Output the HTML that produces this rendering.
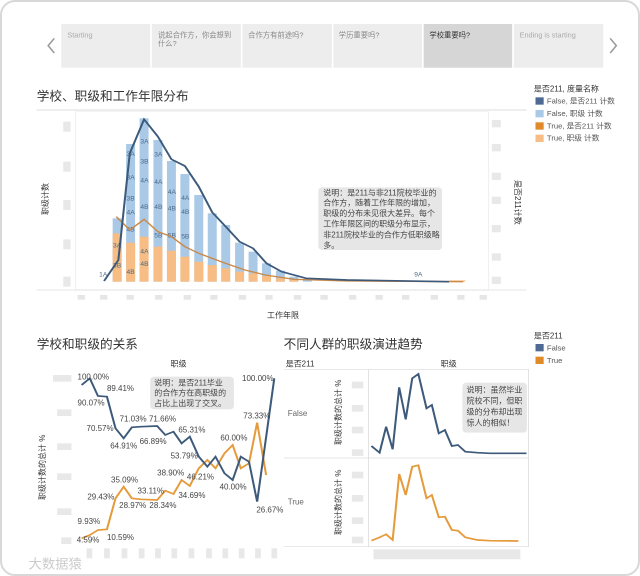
<!DOCTYPE html>
<html><head><meta charset="utf-8"><style>
html,body{margin:0;padding:0;background:#fff;width:640px;height:576px;overflow:hidden}
svg{display:block;font-family:"Liberation Sans","Noto Sans CJK SC",sans-serif}
g.z text{transform-box:fill-box;transform-origin:0 100%;transform:scaleX(0.816)}
</style></head><body>
<svg width="640" height="576" viewBox="0 0 640 576">
<rect x="1" y="1" width="638" height="574" rx="14" fill="#fff" stroke="#d8d8d8" stroke-width="2"/>
<g class="z" transform="scale(0.40816,0.33333)">
<rect x="150" y="72" width="1328" height="131" fill="#ededed"/>
<rect x="1037" y="72" width="218" height="131" fill="#d6d6d6"/>
<g stroke="#fff" stroke-width="4"><line x1="370" y1="72" x2="370" y2="203"/><line x1="592" y1="72" x2="592" y2="203"/><line x1="815" y1="72" x2="815" y2="203"/><line x1="1036" y1="72" x2="1036" y2="203"/><line x1="1257" y1="72" x2="1257" y2="203"/></g>
<g font-size="22" fill="#888"><text x="165" y="112" fill="#aaa">Starting</text><text x="387" y="112">说起合作方，你会想到</text><text x="387" y="138">什么?</text><text x="608" y="112">合作方有前途吗?</text><text x="830" y="112">学历重要吗?</text><text x="1052" y="112" fill="#333">学校重要吗?</text><text x="1273" y="112" fill="#aaa">Ending is starting</text></g>
<polyline points="133,115 118,137 133,159" fill="none" stroke="#999" stroke-width="4"/>
<polyline points="1495,115 1510,137 1495,159" fill="none" stroke="#999" stroke-width="4"/>
<text x="90" y="302" font-size="38" fill="#333">学校、职级和工作年限分布</text>
<line x1="90" y1="330" x2="1290" y2="330" stroke="#ddd" stroke-width="3"/>
<rect x="185" y="335" width="1012" height="535" fill="none" stroke="#eee" stroke-width="2"/>
<line x1="90" y1="870" x2="1290" y2="870" stroke="#ddd" stroke-width="2"/>
<g fill="#e8e8e8"><rect x="155" y="365" width="18" height="30"/><rect x="155" y="485" width="18" height="30"/><rect x="155" y="600" width="18" height="30"/><rect x="155" y="718" width="18" height="30"/><rect x="155" y="830" width="18" height="30"/>
<rect x="1205" y="360" width="22" height="22"/><rect x="1205" y="432" width="22" height="22"/><rect x="1205" y="518" width="22" height="22"/><rect x="1205" y="590" width="22" height="22"/><rect x="1205" y="675" width="22" height="22"/><rect x="1205" y="760" width="22" height="22"/><rect x="1205" y="830" width="22" height="22"/></g>
<g fill="#a9c9e6">
<rect x="276" y="655" width="22" height="190"/><rect x="309" y="432" width="22" height="413"/><rect x="342" y="355" width="22" height="490"/><rect x="376" y="420" width="22" height="425"/><rect x="409" y="483" width="22" height="362"/><rect x="442" y="522" width="22" height="323"/><rect x="476" y="585" width="22" height="260"/><rect x="509" y="640" width="22" height="205"/><rect x="542" y="675" width="22" height="170"/><rect x="576" y="728" width="22" height="117"/><rect x="609" y="755" width="22" height="90"/><rect x="642" y="790" width="22" height="55"/><rect x="676" y="812" width="22" height="33"/><rect x="709" y="830" width="22" height="15"/><rect x="742" y="837" width="22" height="8"/></g>
<g fill="#f7bd84">
<rect x="276" y="700" width="22" height="145"/><rect x="309" y="728" width="22" height="117"/><rect x="342" y="710" width="22" height="135"/><rect x="376" y="740" width="22" height="105"/><rect x="409" y="752" width="22" height="93"/><rect x="442" y="770" width="22" height="75"/><rect x="476" y="785" width="22" height="60"/><rect x="509" y="795" width="22" height="50"/><rect x="542" y="805" width="22" height="40"/><rect x="576" y="815" width="22" height="30"/><rect x="609" y="820" width="22" height="25"/><rect x="642" y="828" width="22" height="17"/><rect x="676" y="835" width="22" height="10"/><rect x="709" y="840" width="22" height="5"/><rect x="1100" y="841" width="40" height="4"/></g>
<g font-size="20" fill="#4a6a8a"><text x="310" y="468">3A</text><text x="344" y="430">3A</text><text x="378" y="470">3A</text><text x="310" y="538">3A</text><text x="344" y="490">3B</text><text x="344" y="548">4A</text><text x="378" y="552">4A</text><text x="411" y="582">4A</text><text x="444" y="600">4A</text><text x="310" y="602">3B</text><text x="310" y="644">4A</text><text x="344" y="627">4B</text><text x="378" y="627">4B</text><text x="411" y="632">4B</text><text x="444" y="642">4B</text><text x="310" y="694">4B</text><text x="378" y="712">5B</text><text x="411" y="712">5B</text><text x="444" y="716">5B</text><text x="277" y="742">3A</text><text x="277" y="802">3B</text><text x="344" y="760">4A</text><text x="344" y="798">4B</text><text x="310" y="822">4B</text><text x="243" y="830">1A</text><text x="1015" y="830">9A</text></g>
<polyline fill="none" stroke="#c98a4a" stroke-width="4" points="285,650 318,690 353,658 387,695 420,710 453,740 487,760 520,775 553,790 600,810 650,825 720,838 850,843 1135,845"/>
<polyline fill="none" stroke="#3d5a7a" stroke-width="5" points="255,843 290,780 318,460 353,358 387,410 420,478 453,498 487,560 520,637 553,680 587,725 620,745 653,790 690,815 750,835 850,840 1100,845"/>
<rect x="780" y="562" width="303" height="188" rx="10" fill="#e6e6e6"/>
<g font-size="24" fill="#444"><text x="792" y="586">说明：是211与非211院校毕业的</text><text x="792" y="616">合作方，随着工作年限的增加，</text><text x="792" y="648">职级的分布未见很大差异。每个</text><text x="792" y="680">工作年限区间的职级分布显示，</text><text x="792" y="712">非211院校毕业的合作方低职级略</text><text x="792" y="744">多。</text></g>
<g fill="#e6e6e6"><rect x="190" y="885" width="18" height="14"/><rect x="245" y="885" width="18" height="14"/><rect x="310" y="885" width="18" height="14"/><rect x="380" y="885" width="18" height="14"/><rect x="450" y="885" width="18" height="14"/><rect x="515" y="885" width="18" height="14"/><rect x="585" y="885" width="18" height="14"/><rect x="650" y="885" width="18" height="14"/><rect x="720" y="885" width="18" height="14"/><rect x="785" y="885" width="18" height="14"/><rect x="855" y="885" width="18" height="14"/><rect x="920" y="885" width="18" height="14"/><rect x="985" y="885" width="18" height="14"/><rect x="1055" y="885" width="18" height="14"/><rect x="1120" y="885" width="18" height="14"/><rect x="1175" y="885" width="18" height="14"/></g>
<text x="1308" y="275" font-size="24" fill="#333">是否211, 度量名称</text>
<rect x="1312" y="292" width="20" height="22" fill="#4e6a94"/><rect x="1312" y="330" width="20" height="22" fill="#a9c9e6"/><rect x="1312" y="367" width="20" height="22" fill="#e08a2c"/><rect x="1312" y="404" width="20" height="22" fill="#f7bd84"/>
<g font-size="23" fill="#555"><text x="1340" y="310">False, 是否211 计数</text><text x="1340" y="348">False, 职级 计数</text><text x="1340" y="385">True, 是否211 计数</text><text x="1340" y="422">True, 职级 计数</text></g>
</g>
<text transform="translate(48,215) rotate(-90)" font-size="8" fill="#333">职级计数</text>
<text transform="translate(515,180) rotate(90)" font-size="8" fill="#333">是否211计数</text>
<text x="267" y="318" font-size="8" fill="#333">工作年限</text>
<text transform="translate(45,500) rotate(-90)" font-size="8" fill="#333">职级计数的总计 %</text>
<text transform="translate(341,445) rotate(-90)" font-size="8" fill="#333">职级计数的总计 %</text>
<text transform="translate(341,535) rotate(-90)" font-size="8" fill="#333">职级计数的总计 %</text>
<g class="z" transform="translate(0,320) scale(0.40816,0.33333)">
<text x="90" y="85" font-size="38" fill="#333">学校和职级的关系</text>
<text x="418" y="140" font-size="24" fill="#333">职级</text>
<g fill="#e8e8e8"><rect x="130" y="165" width="45" height="20"/><rect x="140" y="268" width="35" height="20"/><rect x="140" y="370" width="35" height="20"/><rect x="140" y="460" width="35" height="20"/><rect x="140" y="565" width="35" height="20"/><rect x="150" y="652" width="25" height="20"/>
<rect x="212" y="685" width="14" height="30"/><rect x="255" y="685" width="14" height="30"/><rect x="298" y="685" width="14" height="30"/><rect x="340" y="685" width="14" height="30"/><rect x="380" y="685" width="14" height="30"/><rect x="420" y="685" width="14" height="30"/><rect x="462" y="685" width="14" height="30"/><rect x="505" y="685" width="14" height="30"/><rect x="545" y="685" width="14" height="30"/><rect x="585" y="685" width="14" height="30"/><rect x="625" y="685" width="14" height="30"/><rect x="665" y="685" width="14" height="30"/></g>
<rect x="368" y="170" width="205" height="98" rx="10" fill="#e6e6e6"/>
<g font-size="24" fill="#444"><text x="378" y="196">说明：是否211毕业</text><text x="378" y="226">的合作方在高职级的</text><text x="378" y="258">占比上出现了交叉。</text></g>
<polyline fill="none" stroke="#e59a3c" stroke-width="5" points="200,655 220,645 240,630 262,628 283,535 303,500 323,535 345,538 385,540 405,512 425,522 445,480 465,498 487,445 508,420 528,445 550,400 570,375 590,445 610,430 630,308 652,465"/>
<polyline fill="none" stroke="#3d5a7a" stroke-width="5" points="200,195 220,175 240,228 262,230 283,325 303,355 323,322 345,320 385,318 405,345 425,335 445,370 465,350 487,410 508,440 528,410 550,460 570,480 590,410 610,425 630,545 672,175"/>
<g font-size="24" fill="#444"><text x="190" y="178">100.00%</text><text x="262" y="213">89.41%</text><text x="190" y="257">90.07%</text><text x="212" y="333">70.57%</text><text x="293" y="305">71.03%</text><text x="365" y="305">71.66%</text><text x="270" y="385">64.91%</text><text x="342" y="372">66.89%</text><text x="437" y="337">65.31%</text><text x="418" y="415">53.79%</text><text x="538" y="508">40.00%</text><text x="628" y="578">26.67%</text><text x="593" y="183">100.00%</text><text x="596" y="296">73.33%</text><text x="540" y="362">60.00%</text><text x="272" y="488">35.09%</text><text x="385" y="467">38.90%</text><text x="458" y="478">46.21%</text><text x="214" y="538">29.43%</text><text x="337" y="520">33.11%</text><text x="292" y="564">28.97%</text><text x="366" y="564">28.34%</text><text x="437" y="534">34.69%</text><text x="190" y="612">9.93%</text><text x="262" y="660">10.59%</text><text x="188" y="668">4.59%</text></g>
<text x="695" y="85" font-size="38" fill="#333">不同人群的职级演进趋势</text>
<text x="700" y="140" font-size="24" fill="#333">是否211</text><text x="1080" y="140" font-size="24" fill="#333">职级</text>
<line x1="695" y1="148" x2="1295" y2="148" stroke="#ddd" stroke-width="2"/>
<rect x="903" y="148" width="392" height="532" fill="none" stroke="#ddd" stroke-width="2"/>
<line x1="695" y1="414" x2="1295" y2="414" stroke="#ddd" stroke-width="2"/>
<line x1="695" y1="680" x2="903" y2="680" stroke="#ddd" stroke-width="2"/>
<text x="705" y="288" font-size="24" fill="#666">False</text><text x="705" y="553" font-size="24" fill="#666">True</text>
<g fill="#e8e8e8"><rect x="862" y="185" width="28" height="20"/><rect x="862" y="255" width="28" height="20"/><rect x="862" y="320" width="28" height="20"/><rect x="862" y="388" width="28" height="20"/><rect x="862" y="455" width="28" height="20"/><rect x="862" y="525" width="28" height="20"/><rect x="862" y="592" width="28" height="20"/><rect x="862" y="650" width="28" height="20"/>
<rect x="915" y="688" width="360" height="30"/></g>
<polyline fill="none" stroke="#3d5a7a" stroke-width="5" points="910,378 930,398 946,320 962,388 978,202 994,298 1010,175 1025,162 1045,265 1058,255 1075,340 1090,330 1107,378 1122,375 1140,395 1170,398 1200,400 1290,400"/>
<polyline fill="none" stroke="#e59a3c" stroke-width="5" points="910,662 930,652 946,643 962,660 978,462 994,525 1010,440 1025,436 1045,535 1058,525 1075,592 1090,590 1107,630 1122,632 1140,652 1170,660 1200,662 1270,663"/>
<rect x="1133" y="188" width="158" height="150" rx="10" fill="#e6e6e6"/>
<g font-size="24" fill="#444"><text x="1143" y="217">说明：虽然毕业</text><text x="1143" y="250">院校不同，但职</text><text x="1143" y="283">级的分布却出现</text><text x="1143" y="316">惊人的相似！</text></g>
<text x="1308" y="55" font-size="24" fill="#333">是否211</text>
<rect x="1312" y="72" width="20" height="22" fill="#4e6a94"/><rect x="1312" y="110" width="20" height="22" fill="#e08a2c"/>
<text x="1340" y="91" font-size="23" fill="#555">False</text><text x="1340" y="129" font-size="23" fill="#555">True</text>
<text x="70" y="745" font-size="40" fill="#ccc">大数据猿</text>
</g>
</svg>
</body></html>
